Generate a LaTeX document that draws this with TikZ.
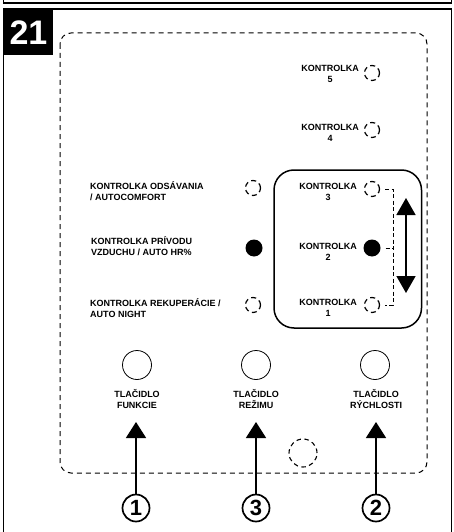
\documentclass[tikz,border=0pt]{standalone}
\usepackage{fontspec}
\setmainfont{Liberation Sans}
\usetikzlibrary{arrows.meta}
\begin{document}
\begin{tikzpicture}[x=1pt,y=-1pt,
  lbl/.style={font=\fontsize{9}{11}\selectfont\bfseries, inner sep=0pt, align=center},
  lbll/.style={font=\fontsize{9}{11}\selectfont\bfseries, inner sep=0pt, align=left, anchor=west},
  ledoff/.style={circle, draw, line width=1.2pt, dash pattern=on 5pt off 3.5pt, minimum size=15pt, inner sep=0pt},
  ledon/.style={circle, fill=black, minimum size=17pt, inner sep=0pt},
  button/.style={circle, draw, line width=0.8pt, minimum size=29pt, inner sep=0pt},
  num/.style={circle, draw, line width=1.7pt, minimum size=27pt, inner sep=0pt, font=\fontsize{22}{22}\selectfont\bfseries},
  uparrow/.style={line width=1.6pt, -{Triangle[width=20pt,length=16pt]}},
  bracket/.style={line width=0.7pt, dash pattern=on 4pt off 2.5pt}
]
\useasboundingbox (0,0) rectangle (453,532);
% outer frames
\draw[line width=1.2pt] (3.5,0) -- (3.5,3) -- (451.5,3) -- (451.5,0);
\draw[line width=1.5pt] (3.5,535) -- (3.5,9) -- (451.5,9) -- (451.5,535);
\fill (3.5,9) rectangle (53,55);
\node[text=white, font=\fontsize{34}{34}\selectfont\bfseries, inner sep=0pt] (num21) at (28.5,33) {21};
% dashed panel
\draw[line width=1pt, dash pattern=on 5pt off 4pt, rounded corners=11pt] (60,33) rectangle (427,473);
% solid rounded box
\draw[line width=1.5pt, rounded corners=20pt] (274,170) rectangle (421.5,328);
% right LEDs
\node[ledoff] (k5) at (372,73) {};
\node[ledoff] (k4) at (372,130) {};
\node[ledoff] (k3) at (372,189) {};
\node[ledon]  (k2) at (372,248) {};
\node[ledoff] (k1) at (372,305) {};
\node[lbl] (k5l) at (330,74) {KONTROLKA\\5};
\node[lbl] (k4l) at (330,133) {KONTROLKA\\4};
\node[lbl] (k3l) at (328,191.5) {KONTROLKA\\3};
\node[lbl] (k2l) at (328,251.5) {KONTROLKA\\2};
\node[lbl] (k1l) at (328,308) {KONTROLKA\\1};
% bracket
\coordinate (bt) at (393,189);
\coordinate (bm) at (393,248);
\coordinate (bb) at (393,305);
\draw[bracket] ([xshift=5pt]k3.east) -- (bt) -- (bb) -- ([xshift=5pt]k1.east);
\draw[bracket] ([xshift=5pt]k2.east) -- (bm);
% double arrow
\coordinate (da1) at (406,198);
\coordinate (da2) at (406,293);
\draw[line width=1.5pt, {Triangle[width=19pt,length=17pt]}-{Triangle[width=19pt,length=17pt]}] (da1) -- (da2);
% left LEDs
\node[ledoff] (ka) at (253,188) {};
\node[ledon]  (kp) at (254,248) {};
\node[ledoff] (kr) at (253,305) {};
\node[lbll] (kal) at (90,191) {KONTROLKA ODSÁVANIA\\/ AUTOCOMFORT};
\node[lbll] (kpl) at (91,246) {KONTROLKA PRÍVODU\\VZDUCHU / AUTO HR\%};
\node[lbll] (krl) at (90,308) {KONTROLKA REKUPERÁCIE /\\AUTO NIGHT};
% buttons
\node[button] (b1) at (137,365) {};
\node[button] (b3) at (256,365) {};
\node[button] (b2) at (375,365) {};
\node[lbl] (b1l) at (137,399) {TLAČIDLO\\FUNKCIE};
\node[lbl] (b3l) at (256,399) {TLAČIDLO\\REŽIMU};
\node[lbl] (b2l) at (376,399) {TLAČIDLO\\RÝCHLOSTI};
% bottom dashed circle
\node[circle, draw, line width=1.1pt, dash pattern=on 4.5pt off 3.5pt, minimum size=28pt, inner sep=0pt] (sens) at (303,453) {};
% numbers
\node[num] (n1) at (136,508) {1};
\node[num] (n3) at (256,508) {3};
\node[num] (n2) at (376,508) {2};
\coordinate (t1) at (136,422);
\coordinate (t3) at (256,422);
\coordinate (t2) at (376,422);
\draw[uparrow] (n1.north) -- (t1);
\draw[uparrow] (n3.north) -- (t3);
\draw[uparrow] (n2.north) -- (t2);
\end{tikzpicture}
\end{document}
